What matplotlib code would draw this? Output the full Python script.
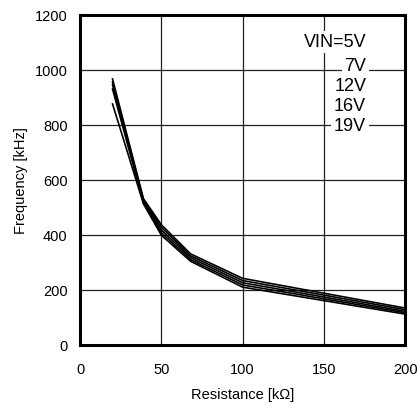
import matplotlib
matplotlib.use("Agg")
import matplotlib.pyplot as plt

resistance = [20, 39, 50, 68, 100, 200]
freq_5v = [967, 532, 437, 331, 242, 134]
freq_7v = [955, 527, 428, 324, 234, 128]
freq_12v = [945, 522, 418, 317, 226, 122]
freq_16v = [930, 517, 408, 310, 218, 117]
freq_19v = [876, 513, 399, 304, 210, 112]
series = [freq_5v, freq_7v, freq_12v, freq_16v, freq_19v]
labels = ["VIN=5V", "7V", "12V", "16V", "19V"]
label_y = [1102, 1015, 942, 869, 796]

plt.rcParams['font.family'] = ['Liberation Sans', 'DejaVu Sans']
fig = plt.figure(figsize=(4.19, 4.06), dpi=100)
ax = fig.add_axes([0.191, 0.148, 0.776, 0.813])

for s in series:
    ax.plot(resistance, s, color='black', lw=1.2, solid_joinstyle='miter')

ax.set_xlim(0, 200)
ax.set_ylim(0, 1200)
ax.set_xticks([0, 50, 100, 150, 200])
ax.set_yticks([0, 200, 400, 600, 800, 1000, 1200])
ax.grid(True, color='#222222', lw=0.9)
ax.set_axisbelow(True)
ax.tick_params(length=0, labelsize=10.5)
ax.tick_params(axis='y', pad=9)
ax.tick_params(axis='x', pad=12)
for sp in ax.spines.values():
    sp.set_linewidth(2.2)

for lab, y in zip(labels, label_y):
    ax.text(176, y, lab, ha='right', va='center', fontsize=13,
            bbox=dict(facecolor='white', edgecolor='none', pad=2.0))

ax.set_xlabel("Resistance [kΩ]", fontsize=10.5, labelpad=8)
ax.set_ylabel("Frequency [kHz]", fontsize=10.5, labelpad=5)

fig.savefig("out.png", dpi=100)
